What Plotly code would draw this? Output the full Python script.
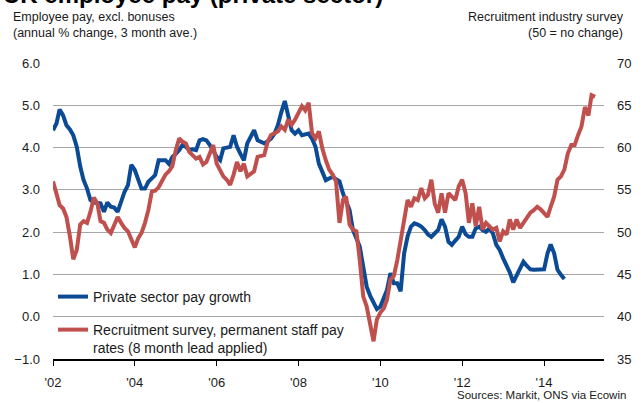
import plotly.graph_objects as go

# ---- Data ----
pay_dates = [
    "2002-01", "2002-02", "2002-03", "2002-04", "2002-05", "2002-06", "2002-07", "2002-08", "2002-09", "2002-10", "2002-11", "2002-12",
    "2003-01", "2003-02", "2003-03", "2003-04", "2003-05", "2003-06", "2003-07", "2003-08", "2003-09", "2003-10", "2003-11", "2003-12",
    "2004-01", "2004-02", "2004-03", "2004-04", "2004-05", "2004-06", "2004-07", "2004-08", "2004-09", "2004-10", "2004-11", "2004-12",
    "2005-01", "2005-02", "2005-03", "2005-04", "2005-05", "2005-06", "2005-07", "2005-08", "2005-09", "2005-10", "2005-11", "2005-12",
    "2006-01", "2006-02", "2006-03", "2006-04", "2006-05", "2006-06", "2006-07", "2006-08", "2006-09", "2006-10", "2006-11", "2006-12",
    "2007-01", "2007-02", "2007-03", "2007-04", "2007-05", "2007-06", "2007-07", "2007-08", "2007-09", "2007-10", "2007-11", "2007-12",
    "2008-01", "2008-02", "2008-03", "2008-04", "2008-05", "2008-06", "2008-07", "2008-08", "2008-09", "2008-10", "2008-11", "2008-12",
    "2009-01", "2009-02", "2009-03", "2009-04", "2009-05", "2009-06", "2009-07", "2009-08", "2009-09", "2009-10", "2009-11", "2009-12",
    "2010-01", "2010-02", "2010-03", "2010-04", "2010-05", "2010-06", "2010-07", "2010-08", "2010-09", "2010-10", "2010-11", "2010-12",
    "2011-01", "2011-02", "2011-03", "2011-04", "2011-05", "2011-06", "2011-07", "2011-08", "2011-09", "2011-10", "2011-11", "2011-12",
    "2012-01", "2012-02", "2012-03", "2012-04", "2012-05", "2012-06", "2012-07", "2012-08", "2012-09", "2012-10", "2012-11", "2012-12",
    "2013-01", "2013-02", "2013-03", "2013-04", "2013-05", "2013-06", "2013-07", "2013-08", "2013-09", "2013-10", "2013-11", "2013-12",
    "2014-01", "2014-02", "2014-03", "2014-04", "2014-05", "2014-06", "2014-07",
]
pay_growth = [
    4.41, 4.57, 4.90, 4.76, 4.53, 4.43, 4.29, 4.02, 3.55, 3.23, 3.03, 2.76,
    2.70, 2.70, 2.68, 2.48, 2.70, 2.60, 2.58, 2.48, 2.76, 2.95, 3.11, 3.59,
    3.47, 3.25, 3.03, 3.03, 3.19, 3.27, 3.35, 3.70, 3.70, 3.70, 3.61, 3.78,
    3.85, 3.94, 4.06, 4.02, 3.94, 3.96, 3.94, 4.17, 4.20, 4.17, 4.06, 3.90,
    3.78, 3.70, 3.98, 4.00, 4.02, 4.29, 4.02, 3.85, 3.70, 4.10, 4.25, 4.41,
    4.17, 4.12, 4.10, 4.15, 4.21, 4.33, 4.53, 4.84, 5.10, 4.76, 4.41, 4.33,
    4.41, 4.29, 4.30, 4.33, 4.21, 4.02, 3.62, 3.39, 3.23, 3.27, 3.31, 3.25,
    3.20, 2.92, 2.72, 2.52, 2.05, 1.85, 1.66, 1.18, 0.71, 0.50, 0.32, 0.18,
    0.24, 0.45, 0.63, 1.03, 0.79, 0.79, 0.60, 1.50, 1.90, 2.13, 2.21, 2.18,
    2.13, 2.05, 1.95, 1.89, 1.98, 2.05, 2.30, 2.13, 1.77, 1.70, 1.80, 1.89,
    2.13, 1.95, 1.89, 1.89, 2.09, 2.13, 2.05, 2.01, 2.09, 1.97, 1.70, 1.58,
    1.38, 1.20, 1.05, 0.81, 0.99, 1.15, 1.30, 1.20, 1.12, 1.11, 1.11, 1.11,
    1.12, 1.50, 1.71, 1.50, 1.11, 0.99, 0.89,
]

survey_dates = pay_dates + [
    "2014-08", "2014-09", "2014-10", "2014-11", "2014-12",
    "2015-01", "2015-02", "2015-03", "2015-04",
]
survey_index = [
    56.0, 54.6, 53.2, 52.8, 51.8, 49.5, 46.8, 47.9, 50.9, 51.3, 51.1, 52.4,
    54.1, 53.4, 51.3, 51.1, 50.3, 49.9, 50.9, 51.8, 51.1, 50.5, 50.1, 49.1,
    48.2, 49.3, 49.9, 51.1, 52.6, 54.8, 54.9, 55.3, 56.2, 56.8, 57.2, 57.8,
    59.7, 61.1, 60.7, 60.5, 59.5, 59.1, 58.7, 58.9, 58.0, 58.3, 59.3, 60.3,
    58.1, 57.3, 56.6, 56.2, 55.6, 56.8, 58.3, 57.2, 58.1, 56.6, 56.9, 57.2,
    58.9, 59.0, 59.1, 60.7, 61.5, 61.7, 61.9, 62.5, 62.1, 63.3, 62.7, 63.3,
    64.0, 64.9, 64.4, 65.3, 61.7, 61.1, 61.9, 59.9, 58.5, 57.4, 56.8, 56.0,
    51.1, 53.8, 54.2, 50.9, 50.3, 50.1, 46.7, 42.4, 41.2, 39.3, 37.1, 39.7,
    40.5, 41.0, 42.0, 44.4, 44.8, 46.7, 49.1, 51.5, 53.8, 53.0, 54.0, 53.8,
    55.2, 54.0, 54.4, 56.2, 53.4, 52.3, 54.6, 52.3, 54.6, 54.2, 53.8, 55.4,
    56.2, 54.6, 51.1, 53.4, 50.7, 53.0, 50.3, 51.1, 50.7, 50.3, 50.5, 48.9,
    50.1, 49.7, 51.5, 50.3, 51.5, 50.5, 51.1, 51.8, 52.3, 52.6, 53.0, 52.7,
    52.3, 51.8, 53.0, 54.2, 56.2, 56.6, 57.4, 59.3, 60.3, 60.3, 61.5, 62.5,
    64.8, 63.8, 66.2, 66.0,
]

tick_dates = ["2002-01-01", "2004-01-01", "2006-01-01", "2008-01-01",
              "2010-01-01", "2012-01-01", "2014-01-01"]
tick_labels = ["'02", "'04", "'06", "'08", "'10", "'12", "'14"]

FONT = "Liberation Sans, Arial, sans-serif"
BLUE = "#0B4A94"
RED = "#C0504D"
GRID = "#A6A6A6"

fig = go.Figure()
fig.add_trace(go.Scatter(
    x=pay_dates, y=pay_growth, mode="lines", name="Private sector pay growth",
    line=dict(color=BLUE, width=4), yaxis="y", legend="legend",
))
fig.add_trace(go.Scatter(
    x=survey_dates, y=survey_index, mode="lines",
    name="Recruitment survey, permanent staff pay<br>rates (8 month lead applied)",
    line=dict(color=RED, width=4), yaxis="y2", legend="legend2",
))

fig.update_layout(
    width=643, height=403,
    margin=dict(l=53, r=29, t=63, b=44),
    paper_bgcolor="white", plot_bgcolor="white",
    font=dict(family=FONT, size=13, color="#1a1a1a"),
    showlegend=True,
    legend=dict(x=0.0, xanchor="left", y=0.2095, yanchor="middle",
                bgcolor="rgba(0,0,0,0)", font=dict(size=14, color="#1a1a1a"),
                borderwidth=0),
    legend2=dict(x=0.0, xanchor="left", y=0.152, yanchor="top",
                 bgcolor="rgba(0,0,0,0)", font=dict(size=14, color="#1a1a1a"),
                 borderwidth=0, valign="top"),
    xaxis=dict(
        type="date", range=["2002-01-01", "2015-06-20"],
        tickvals=tick_dates, ticktext=tick_labels,
        showgrid=False, showline=True, linecolor="black", linewidth=1.5,
        ticks="outside", ticklen=5, tickcolor="black", tickwidth=1,
        tickfont=dict(size=13), ticklabelstandoff=6,
    ),
    yaxis=dict(
        range=[-1, 6], dtick=1, tickformat=".1f",
        showgrid=True, gridcolor=GRID, gridwidth=1, zeroline=False,
        showline=False, ticks="", tickfont=dict(size=13), ticklabelstandoff=12,
    ),
    yaxis2=dict(
        range=[35, 70], dtick=5, overlaying="y", side="right",
        showgrid=False, zeroline=False, showline=False, ticks="",
        tickfont=dict(size=13), ticklabelstandoff=12,
    ),
    annotations=[
        dict(text="<b>UK employee pay (private sector)</b>", xref="paper", yref="paper",
             x=-0.094, y=1.18, xanchor="left", yanchor="bottom", showarrow=False,
             font=dict(size=24, color="black")),
        dict(text="Employee pay, excl. bonuses<br>(annual % change, 3 month ave.)",
             xref="paper", yref="paper", x=-0.076, y=1.185, xanchor="left", yanchor="top",
             align="left", showarrow=False, font=dict(size=12.5, color="#1a1a1a")),
        dict(text="Recruitment industry survey<br>(50 = no change)",
             xref="paper", yref="paper", x=1.04, y=1.185, xanchor="right", yanchor="top",
             align="right", showarrow=False, font=dict(size=12.5, color="#1a1a1a")),
        dict(text="Sources: Markit, ONS via Ecowin", xref="paper", yref="paper",
             x=1.043, y=-0.095, xanchor="right", yanchor="top", showarrow=False,
             font=dict(size=11.5, color="#1a1a1a")),
    ],
)

fig.write_html("out.html")
